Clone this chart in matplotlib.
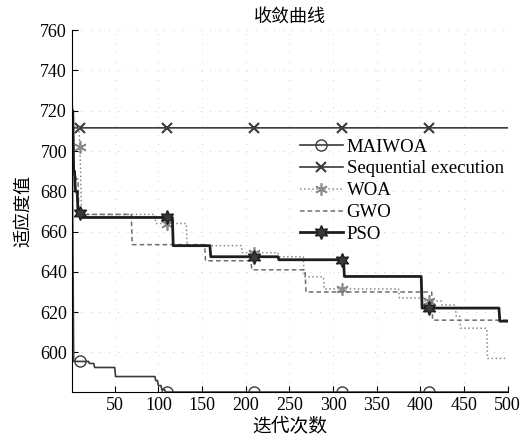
import numpy as np
import matplotlib
matplotlib.use('Agg')
import matplotlib.pyplot as plt

n_iter = 500
iters = np.arange(1, n_iter + 1)

# step change points (iteration, value)
maiwoa_at = [1, 2, 3, 21, 27, 51, 97, 100, 104, 108]
maiwoa_val = [740, 660, 595.5, 594.5, 592.5, 588, 586, 583.5, 581.5, 580.3]

seq_at = [1, 2]
seq_val = [730, 711.5]

woa_at = [1, 2, 10, 11, 12, 97, 133, 196, 238, 267, 290, 376, 405, 425, 441, 446, 477]
woa_val = [735, 712, 702, 690, 668.5, 664, 653, 649.5, 647.5, 637.5, 631.5, 627, 625.5, 623.5, 618, 612, 597]

gwo_at = [1, 3, 6, 9, 70, 154, 207, 269, 414]
gwo_val = [705, 688, 686, 668.5, 653.5, 645.5, 641, 630, 616]

pso_at = [1, 3, 5, 8, 12, 117, 160, 238, 313, 402, 491]
pso_val = [720, 690, 680, 669, 667, 653, 647.5, 646, 637.7, 622, 615.5]

labels = ['MAIWOA', 'Sequential execution', 'WOA', 'GWO', 'PSO']


def steps(at, val):
    y = np.empty(n_iter)
    for s, v in zip(at, val):
        y[s - 1:] = v
    return y


plt.rcParams['font.family'] = ['Liberation Serif', 'DejaVu Serif']
cjk = ['Noto Sans CJK SC', 'DejaVu Sans']

fig = plt.figure(figsize=(5.25, 4.44), dpi=100)
ax = fig.add_axes([0.137, 0.117, 0.830, 0.815])

mk = (9, 100)
ax.plot(iters, steps(maiwoa_at, maiwoa_val), color='#3a3a3a', lw=1.2,
        marker='o', ms=8, mfc='none', mec='#3a3a3a', mew=1.0, markevery=mk, label=labels[0])
ax.plot(iters, steps(seq_at, seq_val), color='#3a3a3a', lw=1.2,
        marker='x', ms=7, mec='#3a3a3a', mew=1.5, markevery=mk, label=labels[1])
ax.plot(iters, steps(woa_at, woa_val), color='#8a8a8a', lw=1.1, ls=':',
        marker=(6, 2, 0), ms=9, mec='#8a8a8a', mew=1.2, markevery=mk, label=labels[2])
ax.plot(iters, steps(gwo_at, gwo_val), color='#6e6e6e', lw=1.1, ls='--',
        dashes=(3, 2), label=labels[3])
ax.plot(iters, steps(pso_at, pso_val), color='#1e1e1e', lw=2.0,
        marker=(6, 1, 0), ms=10, mfc='#3a3a3a', mec='#1e1e1e', mew=1.0, markevery=mk, label=labels[4])

ax.set_xlim(1, 500)
ax.set_ylim(580.3, 760)
ax.set_xticks(np.arange(50, 501, 50))
ax.set_yticks(np.arange(600, 761, 20))
ax.tick_params(direction='in', length=4, labelsize=13, top=False, right=False)
ax.spines['top'].set_visible(False)
ax.spines['right'].set_visible(False)
ax.grid(True, linestyle=(0, (1, 10)), color='#bbbbbb', linewidth=0.6)

ax.set_title('收敛曲线', fontsize=13, family=cjk, pad=6)
ax.set_xlabel('迭代次数', fontsize=13.5, family=cjk, labelpad=2)
ax.set_ylabel('适应度值', fontsize=13, family=cjk, labelpad=6)

ax.legend(loc='upper left', bbox_to_anchor=(0.571, 0.688), bbox_transform=fig.transFigure,
          frameon=False, fontsize=13.5, handlelength=2.3, handletextpad=0.2,
          labelspacing=0.25, borderpad=0, borderaxespad=0)

fig.savefig('out.png', dpi=100)
plt.close(fig)
